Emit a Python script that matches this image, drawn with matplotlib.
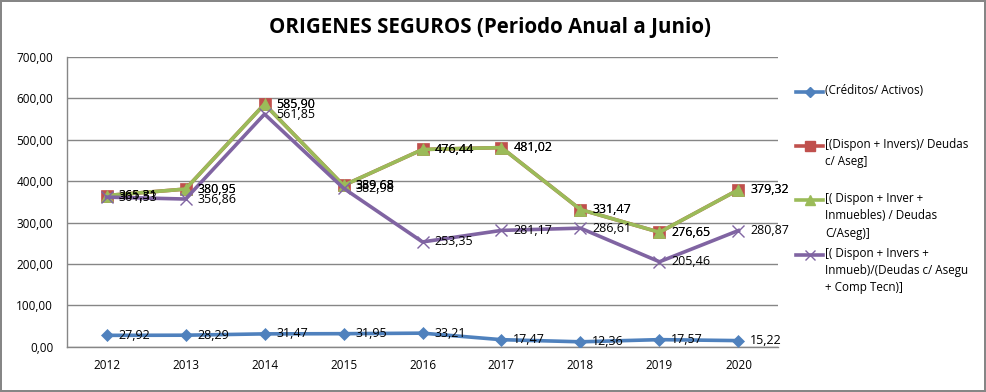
import numpy as np
import matplotlib.pyplot as plt
from matplotlib.lines import Line2D

plt.rcParams['font.family'] = ['Open Sans', 'DejaVu Sans']

anios = ["2012", "2013", "2014", "2015", "2016", "2017", "2018", "2019", "2020"]
creditos_activos = [27.92, 28.29, 31.47, 31.95, 33.21, 17.47, 12.36, 17.57, 15.22]
dispon_invers = [365.31, 380.95, 585.90, 389.68, 476.44, 481.02, 331.47, 276.65, 379.32]
dispon_inver_inmuebles = [365.31, 380.95, 585.90, 389.68, 476.44, 481.02, 331.47, 276.65, 379.32]
dispon_comp_tecn = [361.53, 356.86, 561.85, 382.98, 253.35, 281.17, 286.61, 205.46, 280.87]

nombres = ["(Créditos/ Activos)",
           "[(Dispon + Invers)/ Deudas\nc/ Aseg]",
           "[( Dispon + Inver +\nInmuebles) / Deudas\nC/Aseg)]",
           "[( Dispon + Invers +\nInmueb)/(Deudas c/ Asegu\n+ Comp Tecn)]"]

series = [creditos_activos, dispon_invers, dispon_inver_inmuebles, dispon_comp_tecn]
colores = ["#4F81BD", "#C0504D", "#9BBB59", "#8064A2"]
marcadores = ["D", "s", "^", "x"]
tam = [6, 8, 8, 8]

fig = plt.figure(figsize=(9.86, 3.92), dpi=100)
fig.patch.set_edgecolor("#868686")
fig.patch.set_linewidth(1.5)
ax = fig.add_axes([0.068, 0.115, 0.721, 0.74])

x = np.arange(len(anios))
for vals, c, m, s in zip(series, colores, marcadores, tam):
    ax.plot(x, vals, color=c, lw=2.6, marker=m, markersize=s,
            markeredgewidth=1 if m == "x" else 0.5, markeredgecolor=c, zorder=3)
    for xi, v in zip(x, vals):
        ax.annotate(f"{v:.2f}".replace(".", ","), (xi, v), xytext=(8.5, 0),
                    textcoords="offset points", va="center", ha="left",
                    fontsize=9, color="black", zorder=4)

ax.set_xlim(-0.5, 8.5)
ax.set_ylim(0, 700)
ax.set_yticks(np.arange(0, 701, 100))
ax.set_yticklabels([f"{v:.2f}".replace(".", ",") for v in np.arange(0, 701, 100)], fontsize=8.5)
ax.set_xticks(x)
ax.set_xticklabels(anios, fontsize=8.5)
ax.tick_params(axis="y", length=0, pad=10)
ax.tick_params(axis="x", length=0, pad=9)
ax.grid(axis="y", color="#868686", lw=1)
ax.set_axisbelow(True)
for lado in ["top", "right"]:
    ax.spines[lado].set_visible(False)
for lado in ["left", "bottom"]:
    ax.spines[lado].set_color("#868686")
    ax.spines[lado].set_linewidth(1)

fig.text(0.497, 0.93, "ORIGENES SEGUROS (Periodo Anual a Junio)", ha="center", va="center",
         fontsize=14.8, fontweight="bold")

# leyenda
y_ley = [92, 146, 200, 255]
for nombre, c, m, s, yp in zip(nombres, colores, marcadores, tam, y_ley):
    yf = 1 - yp / 392
    fig.add_artist(Line2D([796 / 986, 823 / 986], [yf, yf], color=c, lw=2.6,
                          transform=fig.transFigure))
    fig.add_artist(Line2D([809.5 / 986], [yf], color=c, marker=m, markersize=s - 1,
                          markeredgecolor=c, transform=fig.transFigure))
    fig.text(825 / 986, yf + 8.5 / 392, nombre, ha="left", va="top", fontsize=8.4,
             linespacing=1.45)

fig.savefig("out.png", dpi=100)
